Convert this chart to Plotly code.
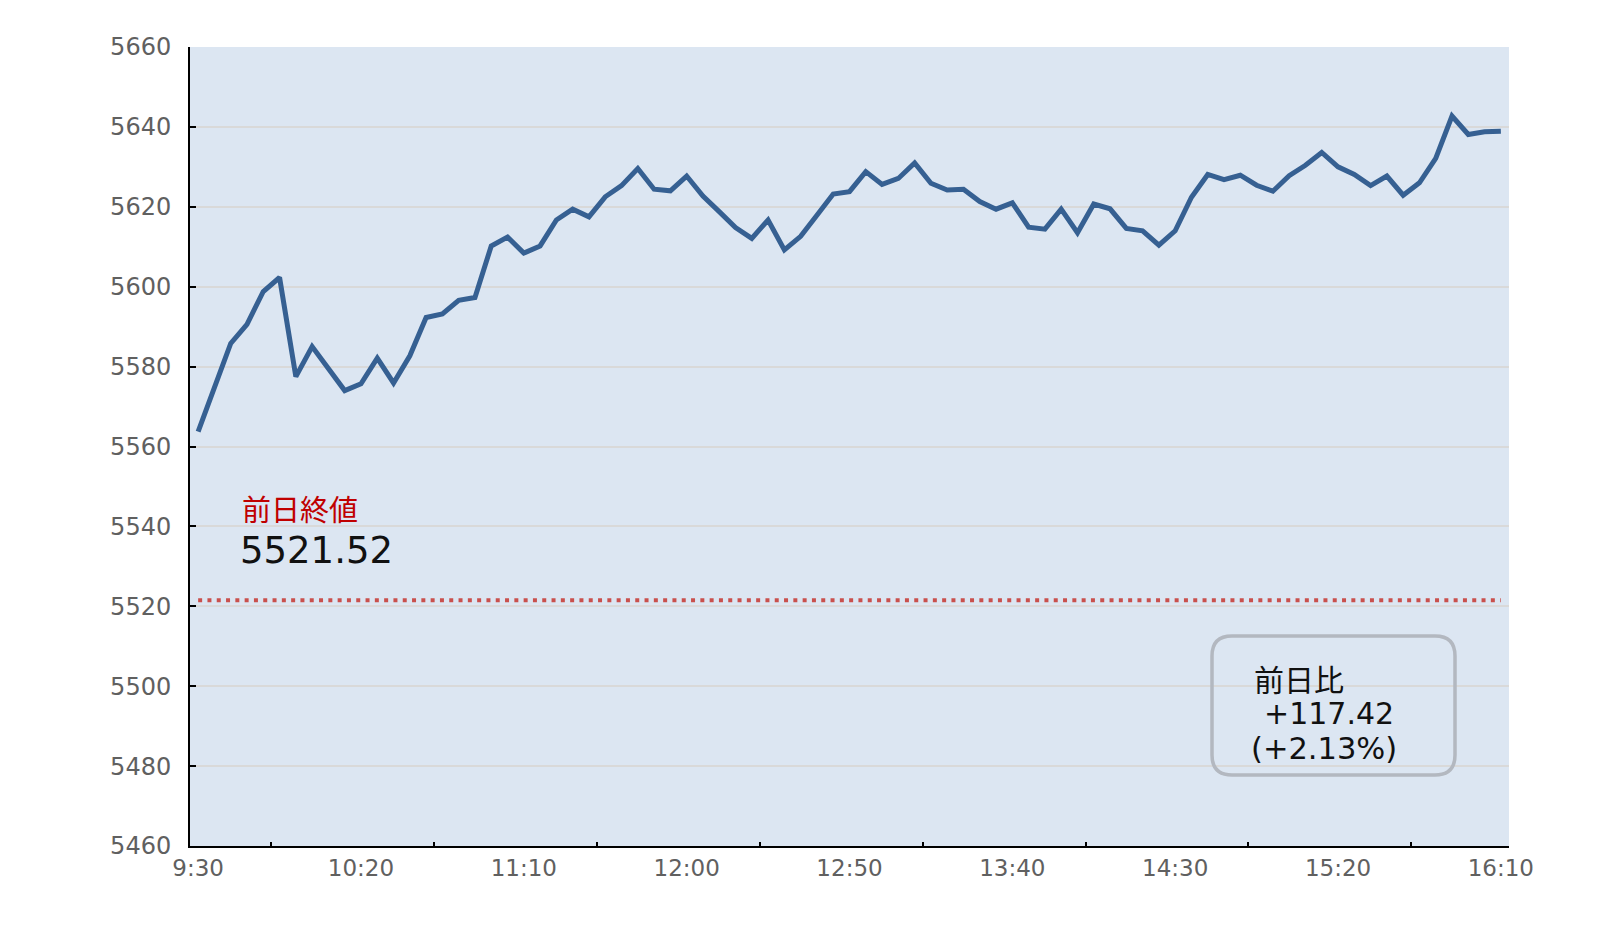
import plotly.graph_objects as go

# ---- data ----
time_labels = ["9:30", "10:20", "11:10", "12:00", "12:50", "13:40", "14:30", "15:20", "16:10"]
prices = [
    5563.7, 5574.6, 5585.8, 5590.6, 5598.8, 5602.3, 5577.5, 5585.0, 5579.5, 5574.0,
    5575.7, 5582.1, 5575.9, 5582.7, 5592.3, 5593.2, 5596.6, 5597.3, 5610.2, 5612.4,
    5608.4, 5610.2, 5616.7, 5619.4, 5617.5, 5622.5, 5625.3, 5629.6, 5624.4, 5624.0,
    5627.7, 5622.7, 5618.8, 5614.8, 5612.1, 5616.7, 5609.2, 5612.6, 5617.9, 5623.2,
    5623.8, 5628.8, 5625.6, 5627.1, 5631.0, 5625.9, 5624.2, 5624.4, 5621.3, 5619.4,
    5621.0, 5614.9, 5614.4, 5619.4, 5613.5, 5620.7, 5619.5, 5614.6, 5614.0, 5610.4,
    5614.0, 5622.4, 5628.1, 5626.8, 5627.9, 5625.4, 5623.9, 5627.8, 5630.4, 5633.6,
    5630.0, 5628.1, 5625.3, 5627.7, 5622.9, 5626.0, 5632.1, 5642.7, 5638.1, 5638.8,
    5638.94,
]
prev_close = 5521.52
change = 117.42
change_pct = 2.13
y_ticks = list(range(5460, 5661, 20))

n = len(prices)
x = list(range(n))
label_step = 10

fig = go.Figure()
fig.add_trace(go.Scatter(
    x=[x[0], x[-1]], y=[prev_close, prev_close], mode="lines",
    line=dict(color="#c9504d", width=4, dash="4px,5.3px"),
    hoverinfo="skip", showlegend=False,
))
fig.add_trace(go.Scatter(
    x=x, y=prices, mode="lines",
    line=dict(color="#366092", width=5),
    showlegend=False,
))

W, H = 1608, 930
OFF = 8  # page body margin offset
# desired on-screen plot area: x 190..1509, y 47..846
ml, mt = 190 - OFF, 47 - OFF
pw, ph = 1509 - 190, 846 - 47
mr = W - ml - pw
mb = H - mt - ph


def px(xp):
    return (xp - 190) / pw


def py(yp):
    return (846 - yp) / ph


font_fam = "DejaVu Sans, Noto Sans CJK JP, sans-serif"

annos = [
    dict(text="前日終値", x=px(240), y=py(511), font=dict(size=29, color="#c00000")),
    dict(text=f"{prev_close:.2f}", x=px(238), y=py(550), font=dict(size=37, color="#111111")),
    dict(text="前日比", x=px(1252), y=py(680), font=dict(size=30, color="#111111")),
    dict(text=f"+{change:.2f}", x=px(1262), y=py(713), font=dict(size=30, color="#111111")),
    dict(text=f"(+{change_pct:.2f}%)", x=px(1249), y=py(748), font=dict(size=30.5, color="#111111")),
]
for a in annos:
    fig.add_annotation(xref="paper", yref="paper", xanchor="left", yanchor="middle",
                       showarrow=False, **a)

# rounded box
x0, x1 = px(1212), px(1455)
y0, y1 = py(775), py(636)
rx, ry = 20 / pw, 20 / ph
path = (f"M {x0+rx},{y1} L {x1-rx},{y1} Q {x1},{y1} {x1},{y1-ry} "
        f"L {x1},{y0+ry} Q {x1},{y0} {x1-rx},{y0} L {x0+rx},{y0} "
        f"Q {x0},{y0} {x0},{y0+ry} L {x0},{y1-ry} Q {x0},{y1} {x0+rx},{y1} Z")
fig.add_shape(type="path", path=path, xref="paper", yref="paper",
              line=dict(color="#b3b8c0", width=3.5))

fig.update_layout(
    width=W, height=H,
    margin=dict(l=ml, r=mr, t=mt, b=mb),
    paper_bgcolor="white", plot_bgcolor="#dce6f2",
    font=dict(family=font_fam),
    xaxis=dict(
        range=[-0.5, n - 0.5],
        tickmode="array",
        tickvals=x[::label_step],
        ticktext=time_labels,
        ticks="",
        showgrid=False, zeroline=False,
        showline=True, linecolor="black", linewidth=2,
        tickfont=dict(size=23, color="#606060"),
        minor=dict(tickmode="array",
                   tickvals=[v + label_step / 2 - 0.5 for v in x[::label_step][:-1]],
                   ticks="inside", ticklen=4, tickwidth=2, tickcolor="black",
                   showgrid=False),
    ),
    yaxis=dict(
        range=[y_ticks[0], y_ticks[-1]],
        tickmode="array", tickvals=y_ticks,
        ticks="inside", ticklen=6, tickwidth=2, tickcolor="black",
        showgrid=True, gridcolor="#d9d9d9", gridwidth=1.5,
        zeroline=False,
        showline=True, linecolor="black", linewidth=2,
        tickfont=dict(size=24, color="#606060"),
        ticklabelstandoff=12,
    ),
)

fig.write_html("out.html")
